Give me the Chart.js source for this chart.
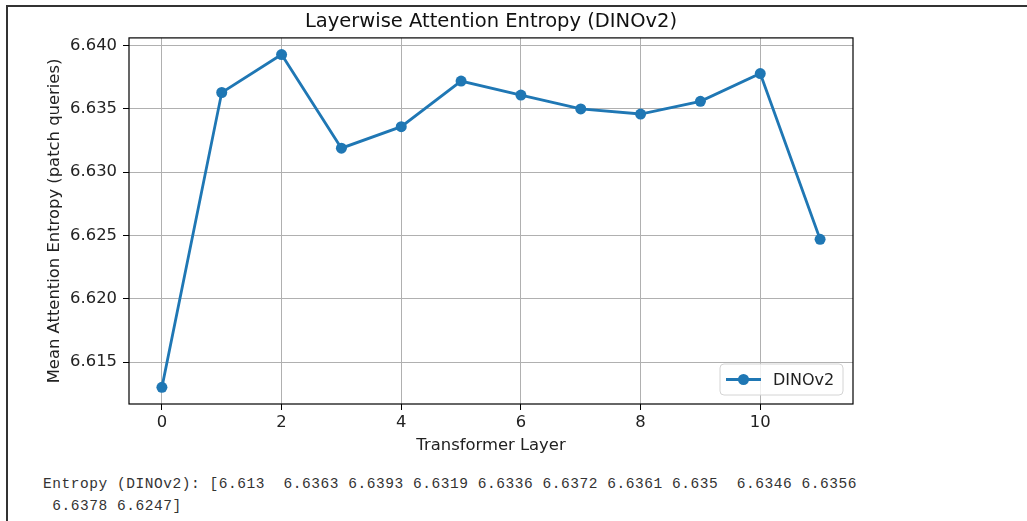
<!DOCTYPE html>
<html>
<head>
<meta charset="utf-8">
<script src="https://cdn.jsdelivr.net/npm/chart.js@4.4.1/dist/chart.umd.min.js"></script>
<style>
  html, body { margin: 0; padding: 0; background: #fff; }
  body { width: 1027px; height: 521px; position: relative; overflow: hidden; }
  #frame {
    position: absolute; left: 6px; top: 5px; width: 1030px; height: 530px;
    border-left: 2px solid #333; border-top: 2px solid #333;
  }
  #wrap { position: absolute; left: 0; top: 0; width: 1027px; height: 462px; }
  #out {
    position: absolute; left: 43px; top: 473px; margin: 0;
    font-family: "Liberation Mono", "DejaVu Sans Mono", monospace;
    font-size: 14.5px; letter-spacing: 0.55px; line-height: 22px; color: #333;
  }
</style>
</head>
<body>
<div id="frame"></div>
<div id="wrap"><canvas id="entropyChart"></canvas></div>
<pre id="out"></pre>
<script>
/* ---------- Data ---------- */
const LAYERS = [0, 1, 2, 3, 4, 5, 6, 7, 8, 9, 10, 11];
const ENTROPY = [6.613, 6.6363, 6.6393, 6.6319, 6.6336, 6.6372, 6.6361, 6.635, 6.6346, 6.6356, 6.6378, 6.6247];
const X_TICKS = [0, 2, 4, 6, 8, 10];
const Y_TICKS = [6.615, 6.620, 6.625, 6.630, 6.635, 6.640];
const SERIES_NAME = "DINOv2";

const BLUE = "#1f77b4";
const FONT = "'DejaVu Sans', sans-serif";

// printed numpy array below the plot
document.getElementById("out").textContent =
  "Entropy (DINOv2): [6.613  6.6363 6.6393 6.6319 6.6336 6.6372 6.6361 6.635  6.6346 6.6356\n" +
  " 6.6378 6.6247]";

/* ---------- Plugins ---------- */
// full box around the axes (matplotlib spines)
const spines = {
  id: "spines",
  afterDatasetsDraw(chart) {
    const a = chart.chartArea, ctx = chart.ctx;
    ctx.save();
    ctx.strokeStyle = "#000";
    ctx.lineWidth = 1.2;
    ctx.strokeRect(a.left, a.top, a.right - a.left, a.bottom - a.top);
    ctx.restore();
  }
};

// legend in lower right, inside the axes
const innerLegend = {
  id: "innerLegend",
  afterDraw(chart) {
    const a = chart.chartArea, ctx = chart.ctx;
    const w = 123, h = 31;
    const x = a.right - 10 - w, y = a.bottom - 9 - h;
    ctx.save();
    ctx.fillStyle = "rgba(255,255,255,0.8)";
    ctx.strokeStyle = "#d4d4d4";
    ctx.lineWidth = 1;
    ctx.beginPath();
    ctx.roundRect(x, y, w, h, 4);
    ctx.fill();
    ctx.stroke();
    const cy = y + h / 2;
    ctx.strokeStyle = BLUE;
    ctx.lineWidth = 2.8;
    ctx.beginPath();
    ctx.moveTo(x + 6, cy);
    ctx.lineTo(x + 41, cy);
    ctx.stroke();
    ctx.fillStyle = BLUE;
    ctx.beginPath();
    ctx.arc(x + 23.5, cy, 5.5, 0, Math.PI * 2);
    ctx.fill();
    ctx.fillStyle = "#222";
    ctx.font = "16px " + FONT;
    ctx.textBaseline = "middle";
    ctx.fillText(chart.data.datasets[0].label, x + 53, cy + 1);
    ctx.restore();
  }
};

/* ---------- Chart ---------- */
const ctx = document.getElementById("entropyChart");
new Chart(ctx, {
  type: "line",
  data: {
    datasets: [{
      label: SERIES_NAME,
      data: LAYERS.map((l, i) => ({x: l, y: ENTROPY[i]})),
      borderColor: BLUE,
      backgroundColor: BLUE,
      borderWidth: 2.8,
      pointRadius: 5.5,
      pointHoverRadius: 5.5,
      pointBorderWidth: 0,
      tension: 0
    }]
  },
  options: {
    responsive: true,
    maintainAspectRatio: false,
    animation: false,
    layout: { padding: { left: 41, right: 174, top: 0, bottom: 2 } },
    plugins: {
      legend: { display: false },
      tooltip: { enabled: false },
      title: {
        display: true,
        fullSize: false,
        text: "Layerwise Attention Entropy (DINOv2)",
        color: "#111",
        font: { family: FONT, size: 19.5, weight: "normal", lineHeight: 1.2 },
        padding: { top: 10, bottom: 4.5 }
      }
    },
    scales: {
      x: {
        type: "linear",
        min: -0.55,
        max: 11.55,
        afterBuildTicks: s => { s.ticks = X_TICKS.map(v => ({value: v})); },
        afterFit: s => { s.height = 56; },
        grid: { color: "#b0b0b0", lineWidth: 1, tickColor: "#000", tickLength: 6 },
        border: { display: false },
        ticks: { color: "#222", font: { family: FONT, size: 16.4 }, padding: 3, maxRotation: 0 },
        title: {
          display: true, text: "Transformer Layer", color: "#222",
          font: { family: FONT, size: 16.4 }, padding: { top: 2, bottom: 4 }
        }
      },
      y: {
        type: "linear",
        min: 6.611685,
        max: 6.640615,
        afterBuildTicks: s => { s.ticks = Y_TICKS.map(v => ({value: v})); },
        afterFit: s => { s.width = 88; },
        grid: { color: "#b0b0b0", lineWidth: 1, tickColor: "#000", tickLength: 6 },
        border: { display: false },
        ticks: {
          color: "#222", font: { family: FONT, size: 16.4 }, padding: 6,
          callback: v => v.toFixed(3)
        },
        title: {
          display: true, text: "Mean Attention Entropy (patch queries)", color: "#222",
          font: { family: FONT, size: 16.4 }, padding: { top: 4, bottom: 4 }
        }
      }
    }
  },
  plugins: [spines, innerLegend]
});
</script>
</body>
</html>
